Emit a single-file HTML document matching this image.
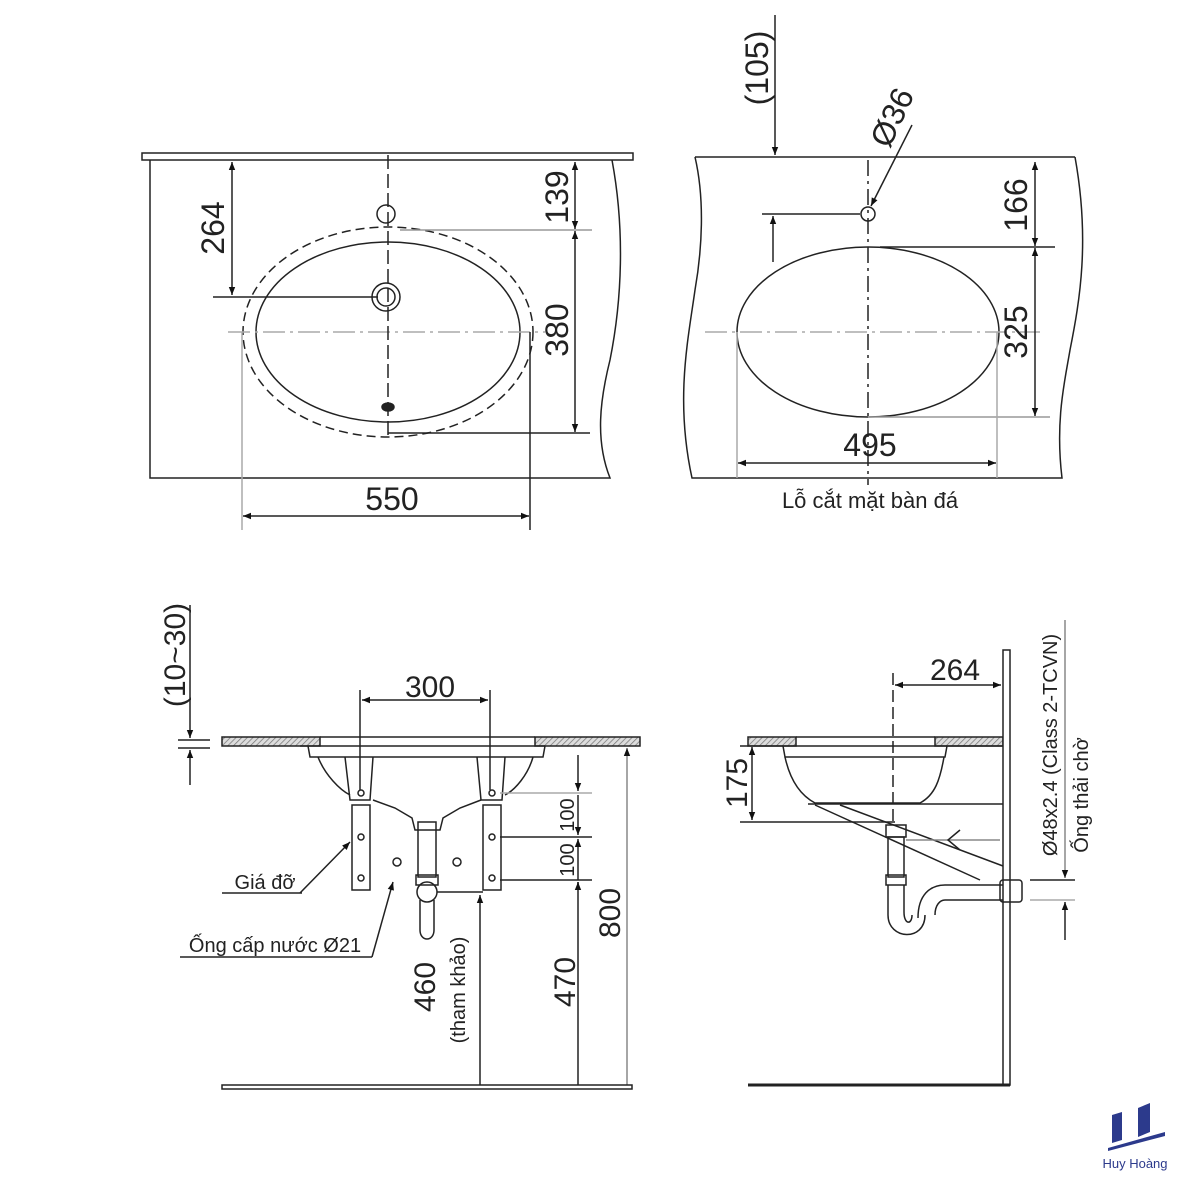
<!DOCTYPE html>
<html><head><meta charset="utf-8"><style>
html,body{margin:0;padding:0;background:#fff;}
svg{display:block;}
text{font-family:"Liberation Sans",sans-serif;fill:#222;}
</style></head><body>
<svg width="1200" height="1200" viewBox="0 0 1200 1200" xmlns="http://www.w3.org/2000/svg">
<defs>
<marker id="a" viewBox="0 0 10 10" refX="10" refY="5" markerWidth="10" markerHeight="8" orient="auto-start-reverse" markerUnits="userSpaceOnUse"><path d="M0,1 L10,5 L0,9 Z" fill="#111"/></marker>
<pattern id="h" width="4" height="4" patternUnits="userSpaceOnUse" patternTransform="rotate(45)"><rect width="4" height="4" fill="#ddd"/><line x1="0" y1="0" x2="0" y2="4" stroke="#777" stroke-width="1.5"/></pattern>
</defs>
<g fill="none" stroke="#222" stroke-width="1.5">
<!-- TOP LEFT -->
<rect x="142" y="153" width="491" height="7" fill="#fff"/>
<path d="M150,160 L150,478 L610,478 C595,440 600,400 610,360 C622,300 625,230 612,160"/>
<ellipse cx="388" cy="332" rx="145" ry="105" stroke-dasharray="9,5"/>
<ellipse cx="388" cy="332" rx="132" ry="90"/>
<line x1="228" y1="332" x2="545" y2="332" stroke="#aaa" stroke-dasharray="22,5,3,5"/>
<line x1="388" y1="155" x2="388" y2="437" stroke-dasharray="14,5"/>
<circle cx="386" cy="214" r="9"/>
<circle cx="386" cy="297" r="14"/><circle cx="386" cy="297" r="9"/>
<ellipse cx="388" cy="407" rx="6" ry="4" fill="#222"/>
<line x1="232" y1="162" x2="232" y2="295" marker-start="url(#a)" marker-end="url(#a)"/>
<line x1="213" y1="297" x2="378" y2="297"/>
<line x1="575" y1="162" x2="575" y2="229" marker-start="url(#a)" marker-end="url(#a)"/>
<line x1="400" y1="230" x2="592" y2="230" stroke="#999"/>
<line x1="575" y1="231" x2="575" y2="432" marker-start="url(#a)" marker-end="url(#a)"/>
<line x1="388" y1="433" x2="590" y2="433"/>
<line x1="242" y1="332" x2="242" y2="530" stroke="#aaa"/>
<line x1="530" y1="332" x2="530" y2="530"/>
<line x1="243" y1="516" x2="529" y2="516" marker-start="url(#a)" marker-end="url(#a)"/>
<!-- TOP RIGHT -->
<line x1="695" y1="157" x2="1075" y2="157"/>
<path d="M695,157 C705,200 702,250 695,290 C688,340 675,400 692,478 L1062,478 C1055,420 1065,380 1070,350 C1080,300 1090,240 1075,157"/>
<ellipse cx="868" cy="332" rx="131" ry="85"/>
<line x1="705" y1="332" x2="1040" y2="332" stroke="#aaa" stroke-dasharray="22,5,3,5"/>
<line x1="868" y1="160" x2="868" y2="485" stroke-dasharray="16,5,3,5"/>
<circle cx="868" cy="214" r="7"/>
<line x1="775" y1="15" x2="775" y2="155" marker-end="url(#a)"/>
<line x1="912" y1="125" x2="871" y2="206" marker-end="url(#a)"/>
<line x1="762" y1="214" x2="860" y2="214"/>
<line x1="773" y1="262" x2="773" y2="216" marker-end="url(#a)"/>
<line x1="1035" y1="162" x2="1035" y2="246" marker-start="url(#a)" marker-end="url(#a)"/>
<line x1="880" y1="247" x2="1055" y2="247"/>
<line x1="1035" y1="248" x2="1035" y2="416" marker-start="url(#a)" marker-end="url(#a)"/>
<line x1="868" y1="417" x2="1050" y2="417" stroke="#999"/>
<line x1="737" y1="332" x2="737" y2="478" stroke="#aaa"/>
<line x1="997" y1="332" x2="997" y2="478" stroke="#aaa"/>
<line x1="738" y1="463" x2="996" y2="463" marker-start="url(#a)" marker-end="url(#a)"/>
<!-- BOTTOM LEFT -->
<line x1="190" y1="605" x2="190" y2="738" marker-end="url(#a)"/>
<line x1="178" y1="740" x2="210" y2="740"/><line x1="178" y1="748" x2="210" y2="748"/>
<line x1="190" y1="785" x2="190" y2="750" marker-end="url(#a)"/>
<rect x="222" y="737" width="98" height="9" fill="url(#h)"/>
<rect x="535" y="737" width="105" height="9" fill="url(#h)"/>
<line x1="320" y1="737" x2="535" y2="737"/>
<line x1="300" y1="746" x2="545" y2="746"/>
<path d="M308,746 L310,757 L543,757 L545,746"/>
<path d="M318,757 C325,775 340,790 350,795"/><path d="M533,757 C528,775 515,790 505,795"/>
<path d="M345,757 L350,800 L370,800 L373,757"/>
<path d="M477,757 L481,800 L502,800 L505,757"/>
<path d="M373,800 L395,808 L412,818 L415,830 L440,830 L443,818 L460,808 L481,800"/>
<rect x="352" y="805" width="18" height="85"/><rect x="483" y="805" width="18" height="85"/>
<circle cx="361" cy="793" r="3"/><circle cx="361" cy="837" r="3"/><circle cx="361" cy="878" r="3"/>
<circle cx="492" cy="793" r="3"/><circle cx="492" cy="837" r="3"/><circle cx="492" cy="878" r="3"/>
<circle cx="397" cy="862" r="4"/><circle cx="457" cy="862" r="4"/>
<rect x="418" y="822" width="18" height="55"/>
<rect x="416" y="875" width="22" height="10"/>
<circle cx="427" cy="892" r="10"/>
<path d="M420,900 L420,930 C420,942 434,942 434,930 L434,900"/>
<line x1="437" y1="892" x2="483" y2="892"/>
<line x1="360" y1="690" x2="360" y2="790"/><line x1="490" y1="690" x2="490" y2="790"/>
<line x1="362" y1="700" x2="488" y2="700" marker-start="url(#a)" marker-end="url(#a)"/>
<line x1="578" y1="755" x2="578" y2="791" marker-end="url(#a)"/>
<line x1="578" y1="795" x2="578" y2="835" marker-end="url(#a)"/>
<line x1="578" y1="880" x2="578" y2="839" marker-end="url(#a)"/>
<line x1="578" y1="887" x2="578" y2="882" />
<line x1="500" y1="793" x2="592" y2="793" stroke="#aaa"/>
<line x1="500" y1="837" x2="592" y2="837"/>
<line x1="500" y1="880" x2="592" y2="880"/>
<line x1="578" y1="1085" x2="578" y2="882" marker-end="url(#a)"/>
<line x1="627" y1="1085" x2="627" y2="748" marker-end="url(#a)" stroke="#888"/>
<line x1="480" y1="1085" x2="480" y2="895" marker-end="url(#a)"/>
<rect x="222" y="1085" width="410" height="4" fill="#fff"/>
<line x1="222" y1="893" x2="302" y2="893"/>
<line x1="300" y1="893" x2="350" y2="842" marker-end="url(#a)"/>
<line x1="180" y1="957" x2="372" y2="957"/>
<line x1="372" y1="957" x2="393" y2="882" marker-end="url(#a)"/>
<!-- BOTTOM RIGHT -->
<rect x="748" y="737" width="48" height="9" fill="url(#h)"/>
<rect x="935" y="737" width="68" height="9" fill="url(#h)"/>
<line x1="796" y1="737" x2="935" y2="737"/>
<line x1="740" y1="746" x2="1003" y2="746"/>
<path d="M783,746 L785,757 L945,757 L947,746"/>
<path d="M785,757 C790,780 800,795 815,803 L920,803 C935,795 940,780 944,757"/>
<line x1="808" y1="804" x2="1003" y2="804"/>
<path d="M815,805 L980,880"/><path d="M840,805 L1003,866"/>
<rect x="1003" y="650" width="7" height="435" fill="#fff"/>
<line x1="748" y1="1085" x2="1010" y2="1085" stroke-width="3"/>
<rect x="886" y="825" width="20" height="12"/>
<rect x="888" y="837" width="16" height="40"/>
<rect x="886" y="875" width="20" height="10"/>
<path d="M888,885 L888,915 C888,940 925,942 925,915"/>
<path d="M904,885 L904,912 C904,925 912,925 912,915"/>
<path d="M918,918 C918,895 930,885 945,885 L1003,885"/><path d="M935,915 C935,905 940,900 945,900 L1003,900"/>
<rect x="1000" y="880" width="22" height="22" rx="3"/>
<line x1="906" y1="840" x2="1000" y2="840" stroke="#888"/>
<path d="M960,830 L948,840 L960,850"/>
<line x1="893" y1="673" x2="893" y2="822" stroke-dasharray="12,5"/>
<line x1="895" y1="685" x2="1001" y2="685" marker-start="url(#a)" marker-end="url(#a)"/>
<line x1="752" y1="747" x2="752" y2="820" marker-start="url(#a)" marker-end="url(#a)"/>
<line x1="740" y1="822" x2="895" y2="822"/>
<line x1="1065" y1="620" x2="1065" y2="878" marker-end="url(#a)" stroke="#888"/>
<line x1="1030" y1="880" x2="1075" y2="880"/><line x1="1030" y1="900" x2="1075" y2="900" stroke="#aaa"/>
<line x1="1065" y1="940" x2="1065" y2="902" marker-end="url(#a)"/>
</g>
<!-- texts -->
<g font-size="32">
<text transform="translate(224,228) rotate(-90)" text-anchor="middle">264</text>
<text transform="translate(568,197) rotate(-90)" text-anchor="middle">139</text>
<text transform="translate(568,330) rotate(-90)" text-anchor="middle">380</text>
<text x="392" y="510" text-anchor="middle">550</text>
<text transform="translate(768,68) rotate(-90)" text-anchor="middle">(105)</text>
<text transform="translate(902,122) rotate(-65)" text-anchor="middle">Ø36</text>
<text transform="translate(1027,205) rotate(-90)" text-anchor="middle">166</text>
<text transform="translate(1027,332) rotate(-90)" text-anchor="middle">325</text>
<text x="870" y="456" text-anchor="middle">495</text>
<text transform="translate(185,655) rotate(-90)" text-anchor="middle" font-size="30">(10~30)</text>
<text x="430" y="697" text-anchor="middle" font-size="30">300</text>
<text transform="translate(435,987) rotate(-90)" text-anchor="middle" font-size="30">460</text>
<text transform="translate(575,982) rotate(-90)" text-anchor="middle" font-size="30">470</text>
<text transform="translate(620,913) rotate(-90)" text-anchor="middle" font-size="30">800</text>
<text x="955" y="680" text-anchor="middle" font-size="30">264</text>
<text transform="translate(747,783) rotate(-90)" text-anchor="middle" font-size="30">175</text>
</g>
<text x="870" y="508" text-anchor="middle" font-size="22">Lỗ cắt mặt bàn đá</text>
<text transform="translate(574,815) rotate(-90)" text-anchor="middle" font-size="20">100</text>
<text transform="translate(574,860) rotate(-90)" text-anchor="middle" font-size="20">100</text>
<text transform="translate(465,990) rotate(-90)" text-anchor="middle" font-size="20">(tham khảo)</text>
<text x="265" y="889" text-anchor="middle" font-size="20">Giá đỡ</text>
<text x="275" y="952" text-anchor="middle" font-size="20">Ống cấp nước Ø21</text>
<text transform="translate(1057,745) rotate(-90)" text-anchor="middle" font-size="20">Ø48x2.4 (Class 2-TCVN)</text>
<text transform="translate(1088,795) rotate(-90)" text-anchor="middle" font-size="20">Ống thải chờ</text>
<!-- logo -->
<g fill="#2c3a8c">
<polygon points="1112,1115 1122,1112 1122,1140 1112,1143"/>
<polygon points="1138,1108 1150,1103 1150,1132 1138,1137"/>
<polygon points="1108,1148 1165,1132 1165,1136 1108,1151"/>
</g>
<text x="1135" y="1168" text-anchor="middle" font-size="13" style="fill:#2c3a8c">Huy Hoàng</text>
</svg>
</body></html>
